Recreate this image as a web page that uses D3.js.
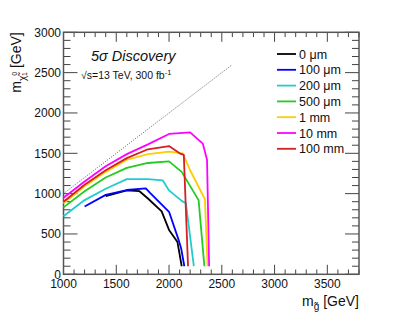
<!DOCTYPE html>
<html lang="en">
<head>
<meta charset="UTF-8">
<title>5 sigma discovery</title>
<script src="https://d3js.org/d3.v7.min.js"></script>
<style>
  body { margin: 0; background: #fff; }
  svg { display: block; font-family: "Liberation Sans", Arial, sans-serif; }
</style>
</head>
<body>
<svg width="399" height="316"></svg>
<script>
// gluino mass [GeV], neutralino mass [GeV] for each lifetime
const ct0um   = [[1400,970],[1600,1040],[1720,1030],[1800,940],[1930,780],[2000,550],[2080,400],[2120,100]];
const ct100um = [[1200,840],[1400,985],[1600,1045],[1780,1065],[1820,1010],[2000,775],[2090,430],[2115,320],[2145,100]];
const ct200um = [[1000,720],[1200,920],[1400,1060],[1600,1180],[1800,1180],[1940,1165],[2000,1040],[2120,910],[2160,880],[2235,100]];
const ct500um = [[1000,830],[1200,1030],[1400,1200],[1600,1320],[1800,1380],[2000,1400],[2120,1270],[2280,920],[2335,100]];
const ct1mm   = [[1000,880],[1200,1090],[1400,1270],[1600,1420],[1800,1490],[2000,1520],[2130,1500],[2200,1290],[2340,930],[2365,100]];
const ct10mm  = [[1000,950],[1200,1150],[1400,1340],[1600,1490],[1800,1610],[2000,1740],[2200,1760],[2320,1620],[2360,1420],[2380,100]];
const ct100mm = [[1000,900],[1200,1110],[1400,1290],[1600,1440],[1800,1550],[2000,1590],[2100,1500],[2140,1480],[2180,100]];
const diagonal = [[1000,1000],[2600,2600]];

const labels = ["0 μm", "100 μm", "200 μm", "500 μm", "1 mm", "10 mm", "100 mm"];
const curves = [ct0um, ct100um, ct200um, ct500um, ct1mm, ct10mm, ct100mm];
const colors = ["#000000", "#0000ff", "#22cccc", "#22cc22", "#ffcc00", "#ff00ff", "#d42020"];

const xTicks = [1000, 1500, 2000, 2500, 3000, 3500];
const yTicks = [0, 500, 1000, 1500, 2000, 2500, 3000];

const padL = 63.5, padR = 359, padT = 32.3, padB = 274.3;
const svg = d3.select("svg");

const x = d3.scaleLinear().domain([1000, 3800]).range([padL, padR]);
const y = d3.scaleLinear().domain([0, 3000]).range([padB, padT]);

// minor + major ticks on all four sides (ROOT style)
const tickG = svg.append("g").attr("stroke", "#444").attr("stroke-width", 1);
d3.range(1000, 3801, 100).forEach(v => {
  const len = v % 500 === 0 ? 9.5 : 4.8;
  tickG.append("line").attr("x1", x(v)).attr("x2", x(v)).attr("y1", padB).attr("y2", padB - len);
  tickG.append("line").attr("x1", x(v)).attr("x2", x(v)).attr("y1", padT).attr("y2", padT + len);
});
d3.range(0, 3001, 100).forEach(v => {
  const len = v % 500 === 0 ? 14 : 7;
  tickG.append("line").attr("x1", padL).attr("x2", padL + len).attr("y1", y(v)).attr("y2", y(v));
  tickG.append("line").attr("x1", padR).attr("x2", padR - len).attr("y1", y(v)).attr("y2", y(v));
});

svg.append("rect")
  .attr("x", padL).attr("y", padT)
  .attr("width", padR - padL).attr("height", padB - padT)
  .attr("fill", "none").attr("stroke", "#555").attr("stroke-width", 1.5);

svg.append("g").selectAll("text").data(xTicks).join("text")
  .attr("x", d => x(d)).attr("y", 287.5)
  .attr("text-anchor", "middle").attr("font-size", 12).attr("fill", "#111")
  .text(d => d);

svg.append("g").selectAll("text").data(yTicks).join("text")
  .attr("x", 61).attr("y", d => y(d) + 4.3)
  .attr("text-anchor", "end").attr("font-size", 12).attr("fill", "#111")
  .text(d => d);

// axis titles
const xt = svg.append("text").attr("x", padR).attr("y", 305.5)
  .attr("text-anchor", "end").attr("font-size", 14).attr("fill", "#111");
xt.append("tspan").text("m");
xt.append("tspan").attr("font-size", 10).attr("dy", 4).text("g\u0303");
xt.append("tspan").attr("dy", -4).text(" [GeV]");

const yt = svg.append("text").attr("transform", `translate(21,${padT}) rotate(-90)`)
  .attr("text-anchor", "end").attr("font-size", 14).attr("fill", "#111");
yt.append("tspan").text("m");
yt.append("tspan").attr("font-size", 10).attr("dy", 5).text("\u03c7\u0303");
yt.append("tspan").attr("font-size", 7).attr("dy", -9).text("0");
yt.append("tspan").attr("font-size", 7).attr("dx", -4).attr("dy", 10).text("1");
yt.append("tspan").attr("dy", -6).text(" [GeV]");

// dotted diagonal m_chi = m_gluino
const line = d3.line().x(d => x(d[0])).y(d => y(d[1]));
svg.append("path").datum(diagonal)
  .attr("d", line).attr("fill", "none")
  .attr("stroke", "#333").attr("stroke-width", 0.8).attr("stroke-dasharray", "1,1.5");

curves.forEach((c, i) => {
  svg.append("path").datum(c)
    .attr("d", line).attr("fill", "none")
    .attr("stroke", colors[i]).attr("stroke-width", 1.8)
    .attr("stroke-linejoin", "round");
});

// labels
svg.append("text").attr("x", 91).attr("y", 61)
  .attr("font-size", 14.5).attr("font-style", "italic").attr("fill", "#111")
  .text("5σ Discovery");
const lumi = svg.append("text").attr("x", 81).attr("y", 78.5)
  .attr("font-size", 10.5).attr("fill", "#111");
lumi.append("tspan").text("√s=13 TeV, 300 fb");
lumi.append("tspan").attr("font-size", 7.5).attr("dy", -4).text("-1");

// legend
const leg = svg.append("g");
labels.forEach((l, i) => {
  const yy = 54 + i * 15.8;
  leg.append("line").attr("x1", 277).attr("x2", 296).attr("y1", yy).attr("y2", yy)
    .attr("stroke", colors[i]).attr("stroke-width", 1.8);
  leg.append("text").attr("x", 299).attr("y", yy + 4.5)
    .attr("font-size", 12.5).attr("fill", "#111").text(l);
});
</script>
</body>
</html>
